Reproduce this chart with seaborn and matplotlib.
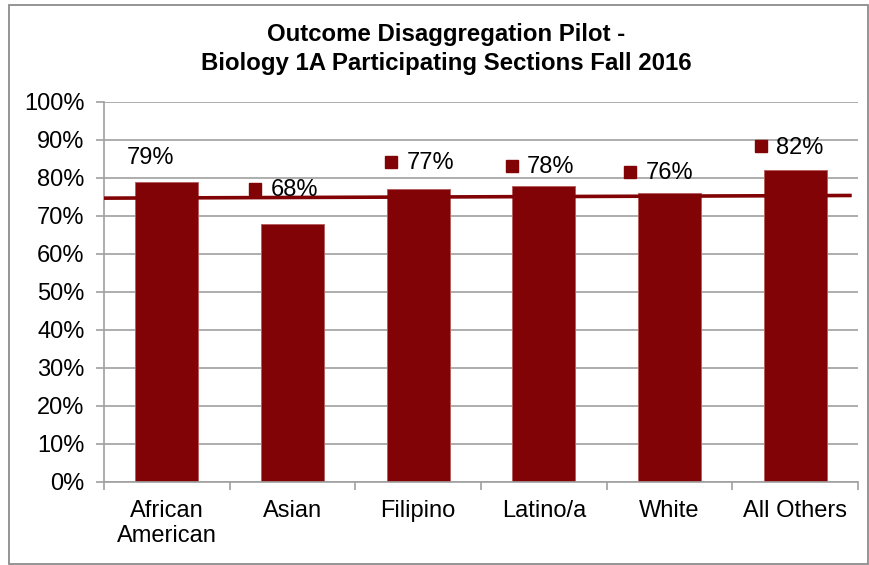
import matplotlib
matplotlib.use('Agg')
import matplotlib.pyplot as plt
import seaborn as sns
from matplotlib.patches import Rectangle
from matplotlib.ticker import FuncFormatter, FixedLocator
from matplotlib.transforms import offset_copy

# Data
categories = ["African\nAmerican", "Asian", "Filipino", "Latino/a", "White", "All Others"]
success_rates = [79, 68, 77, 78, 76, 82]
avg_line = [74.7, 75.4]  # left / right end of the reference line

title = "Outcome Disaggregation Pilot -\nBiology 1A Participating Sections Fall 2016"

BAR = "#820305"
GRID = "#a0a0a0"

sns.set_style("white")
plt.rcParams['font.family'] = ['Liberation Sans', 'DejaVu Sans']
plt.rcParams['text.color'] = 'black'
plt.rcParams['xtick.labelcolor'] = 'black'
plt.rcParams['ytick.labelcolor'] = 'black'

fig = plt.figure(figsize=(8.7, 5.65), dpi=100)
ax = fig.add_axes([104 / 870, 1 - 482 / 565, (858 - 104) / 870, 380 / 565])

sns.barplot(x=categories, y=success_rates, color=BAR, saturation=1, width=0.5,
            edgecolor="#b86060", linewidth=0.7, ax=ax, zorder=2)

# reference line across the chart
n = len(categories)
ax.plot([-0.5, n - 0.55], avg_line, color=BAR, lw=2.6, zorder=3, solid_capstyle='butt')

ax.set_xlim(-0.5, n - 0.5)
ax.set_ylim(0, 100)
ax.set_yticks(range(0, 101, 10))
ax.yaxis.set_major_formatter(FuncFormatter(lambda v, p: f"{v:.0f}%"))
ax.grid(axis='y', color=GRID, lw=1.2, zorder=0)
ax.set_axisbelow(True)
ax.set_xlabel("")
ax.set_ylabel("")

for s in ["top", "right"]:
    ax.spines[s].set_visible(False)
for s in ["left", "bottom"]:
    ax.spines[s].set_color(GRID)
    ax.spines[s].set_linewidth(1.2)

ax.tick_params(axis='y', which='major', length=6, width=1.2, color=GRID,
               labelsize=17, pad=8, left=True, labelcolor='black')
ax.tick_params(axis='x', which='major', length=0, labelsize=17, pad=13, labelcolor='black')
ax.xaxis.set_minor_locator(FixedLocator([i - 0.5 for i in range(n + 1)]))
ax.tick_params(axis='x', which='minor', length=5.5, width=1.2, color=GRID, bottom=True)
for t in ax.get_xticklabels():
    t.set_linespacing(1.2)

# data labels: (marker dx, marker dy) in pixels from bar top; None = no legend key
label_offsets = [None, (-37, 34.6), (-26.7, 27.7), (-31.7, 20), (-39, 21.5), (-33.7, 24)]
for i, v in enumerate(success_rates):
    off = label_offsets[i]
    if off is None:
        tr = offset_copy(ax.transData, fig=fig, x=-40, y=24, units='dots')
        ax.text(i, v, f"{v}%", transform=tr, ha='left', va='center', fontsize=17, zorder=4)
        continue
    dx, dy = off
    mtr = offset_copy(ax.transData, fig=fig, x=dx, y=dy, units='dots')
    ax.plot(i, v, marker='s', ms=9.2, color=BAR, mec=BAR, transform=mtr, zorder=4, clip_on=False)
    ttr = offset_copy(ax.transData, fig=fig, x=dx + 15, y=dy - 1.5, units='dots')
    ax.text(i, v, f"{v}%", transform=ttr, ha='left', va='center', fontsize=17, zorder=4)

fig.text(446 / 870, 1 - 49 / 565, title, ha='center', va='center',
         fontsize=17.3, fontweight='bold', linespacing=1.3)

# chart frame
fig.patches.append(Rectangle((9 / 870, 1 / 565), 859 / 870, 559 / 565, transform=fig.transFigure,
                             fill=False, edgecolor="#8c8c8c", lw=1.3))

fig.savefig("out.png", dpi=100)
